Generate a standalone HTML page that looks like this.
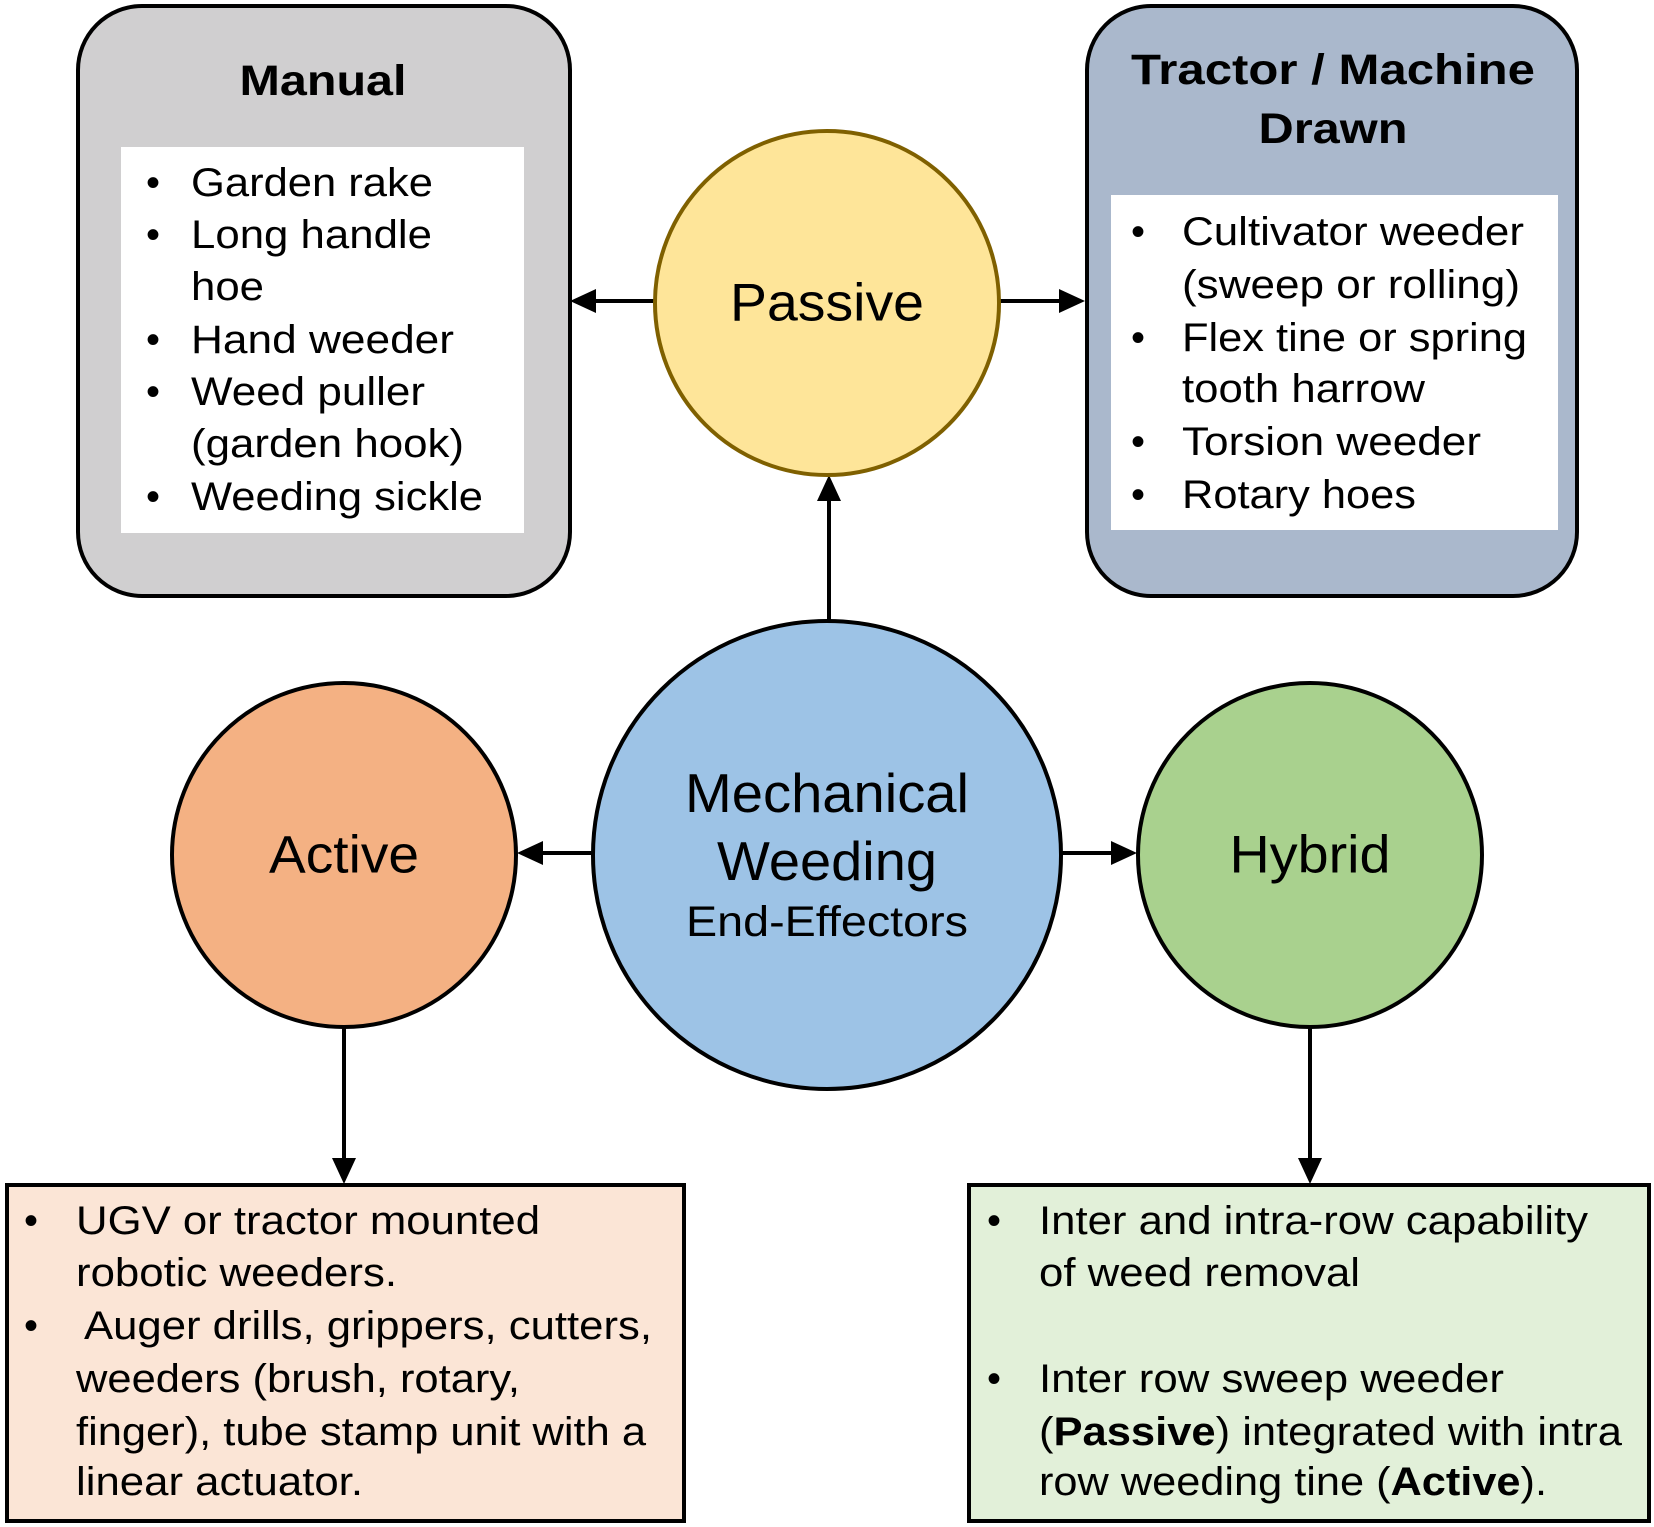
<!DOCTYPE html>
<html><head><meta charset="utf-8"><style>
html,body{margin:0;padding:0;background:#fff}
svg{display:block}
text{font-family:"Liberation Sans",Arial,sans-serif;fill:#000}
</style></head><body>
<svg width="1654" height="1527" viewBox="0 0 1654 1527" xmlns="http://www.w3.org/2000/svg">
<defs>
<marker id="ah" markerWidth="10" markerHeight="10" refX="9" refY="5" orient="auto" markerUnits="userSpaceOnUse" viewBox="0 0 10 10">
</marker>
</defs>
<rect width="1654" height="1527" fill="#fff"/>
<!-- Manual box -->
<rect x="78" y="6" width="492" height="590" rx="64" fill="#d0cfd0" stroke="#000" stroke-width="4"/>
<rect x="121" y="147" width="403" height="386" fill="#fff"/>
<text x="323" y="81" font-size="43" font-weight="bold" text-anchor="middle" dominant-baseline="central" textLength="167" lengthAdjust="spacingAndGlyphs">Manual</text>
<g font-size="40" dominant-baseline="central">
<text x="146" y="183">•</text><text x="191" y="183" textLength="242" lengthAdjust="spacingAndGlyphs">Garden rake</text>
<text x="146" y="235">•</text><text x="191" y="235" textLength="241" lengthAdjust="spacingAndGlyphs">Long handle</text>
<text x="191" y="287" textLength="73" lengthAdjust="spacingAndGlyphs">hoe</text>
<text x="146" y="340">•</text><text x="191" y="340" textLength="263" lengthAdjust="spacingAndGlyphs">Hand weeder</text>
<text x="146" y="392">•</text><text x="191" y="392" textLength="234" lengthAdjust="spacingAndGlyphs">Weed puller</text>
<text x="191" y="444" textLength="273" lengthAdjust="spacingAndGlyphs">(garden hook)</text>
<text x="146" y="497">•</text><text x="191" y="497" textLength="292" lengthAdjust="spacingAndGlyphs">Weeding sickle</text>
</g>
<!-- Tractor box -->
<rect x="1087" y="6" width="490" height="590" rx="64" fill="#aab8cc" stroke="#000" stroke-width="4"/>
<rect x="1111" y="195" width="447" height="335" fill="#fff"/>
<text x="1333" y="70" font-size="43" font-weight="bold" text-anchor="middle" dominant-baseline="central" textLength="404" lengthAdjust="spacingAndGlyphs">Tractor / Machine</text>
<text x="1333" y="129" font-size="43" font-weight="bold" text-anchor="middle" dominant-baseline="central" textLength="149" lengthAdjust="spacingAndGlyphs">Drawn</text>
<g font-size="40" dominant-baseline="central">
<text x="1131" y="232">•</text><text x="1182" y="232" textLength="342" lengthAdjust="spacingAndGlyphs">Cultivator weeder</text>
<text x="1182" y="285" textLength="338" lengthAdjust="spacingAndGlyphs">(sweep or rolling)</text>
<text x="1131" y="338">•</text><text x="1182" y="338" textLength="345" lengthAdjust="spacingAndGlyphs">Flex tine or spring</text>
<text x="1182" y="389" textLength="243" lengthAdjust="spacingAndGlyphs">tooth harrow</text>
<text x="1131" y="442">•</text><text x="1182" y="442" textLength="299" lengthAdjust="spacingAndGlyphs">Torsion weeder</text>
<text x="1131" y="495">•</text><text x="1182" y="495" textLength="234" lengthAdjust="spacingAndGlyphs">Rotary hoes</text>
</g>
<!-- connectors -->
<g stroke="#000" stroke-width="4">
<line x1="654" y1="301" x2="590" y2="301"/>
<line x1="1000" y1="301" x2="1065" y2="301"/>
<line x1="829" y1="620" x2="829" y2="495"/>
<line x1="593" y1="853" x2="537" y2="853"/>
<line x1="1061" y1="853" x2="1117" y2="853"/>
<line x1="344" y1="1025" x2="344" y2="1160"/>
<line x1="1310" y1="1025" x2="1310" y2="1160"/>
</g>
<g fill="#000">
<polygon points="570,301 596,289 596,313"/>
<polygon points="1085,301 1059,289 1059,313"/>
<polygon points="829,475 817,501 841,501"/>
<polygon points="517,853 543,841 543,865"/>
<polygon points="1137,853 1111,841 1111,865"/>
<polygon points="344,1184 332,1158 356,1158"/>
<polygon points="1310,1184 1298,1158 1322,1158"/>
</g>
<!-- circles -->
<circle cx="827" cy="303" r="172" fill="#fee599" stroke="#7f6000" stroke-width="4"/>
<text x="827" y="303" font-size="53" text-anchor="middle" dominant-baseline="central" textLength="194" lengthAdjust="spacingAndGlyphs">Passive</text>
<circle cx="827" cy="855" r="234" fill="#9dc3e6" stroke="#000" stroke-width="4"/>
<text x="827" y="793" font-size="55" text-anchor="middle" dominant-baseline="central" textLength="284" lengthAdjust="spacingAndGlyphs">Mechanical</text>
<text x="827" y="861" font-size="55" text-anchor="middle" dominant-baseline="central" textLength="220" lengthAdjust="spacingAndGlyphs">Weeding</text>
<text x="827" y="922" font-size="43" text-anchor="middle" dominant-baseline="central" textLength="282" lengthAdjust="spacingAndGlyphs">End-Effectors</text>
<circle cx="344" cy="855" r="172" fill="#f4b183" stroke="#000" stroke-width="4"/>
<text x="344" y="855" font-size="53" text-anchor="middle" dominant-baseline="central" textLength="150" lengthAdjust="spacingAndGlyphs">Active</text>
<circle cx="1310" cy="855" r="172" fill="#a9d18e" stroke="#000" stroke-width="4"/>
<text x="1310" y="855" font-size="53" text-anchor="middle" dominant-baseline="central" textLength="161" lengthAdjust="spacingAndGlyphs">Hybrid</text>
<!-- bottom boxes -->
<rect x="7" y="1185" width="677" height="336" fill="#fbe5d6" stroke="#000" stroke-width="4"/>
<g font-size="40" dominant-baseline="central">
<text x="24" y="1221">•</text><text x="76" y="1221" textLength="464" lengthAdjust="spacingAndGlyphs">UGV or tractor mounted</text>
<text x="76" y="1273" textLength="321" lengthAdjust="spacingAndGlyphs">robotic weeders.</text>
<text x="24" y="1326">•</text><text x="84" y="1326" textLength="568" lengthAdjust="spacingAndGlyphs">Auger drills, grippers, cutters,</text>
<text x="76" y="1379" textLength="444" lengthAdjust="spacingAndGlyphs">weeders (brush, rotary,</text>
<text x="76" y="1432" textLength="570" lengthAdjust="spacingAndGlyphs">finger), tube stamp unit with a</text>
<text x="76" y="1482" textLength="287" lengthAdjust="spacingAndGlyphs">linear actuator.</text>
</g>
<rect x="969" y="1185" width="680" height="336" fill="#e2f0d9" stroke="#000" stroke-width="4"/>
<g font-size="40" dominant-baseline="central">
<text x="987" y="1221">•</text><text x="1039" y="1221" textLength="549" lengthAdjust="spacingAndGlyphs">Inter and intra-row capability</text>
<text x="1039" y="1273" textLength="321" lengthAdjust="spacingAndGlyphs">of weed removal</text>
<text x="987" y="1379">•</text><text x="1039" y="1379" textLength="465" lengthAdjust="spacingAndGlyphs">Inter row sweep weeder</text>
<text x="1039" y="1432" textLength="583" lengthAdjust="spacingAndGlyphs">(<tspan font-weight="bold">Passive</tspan>) integrated with intra</text>
<text x="1039" y="1482" textLength="508" lengthAdjust="spacingAndGlyphs">row weeding tine (<tspan font-weight="bold">Active</tspan>).</text>
</g>
</svg>
</body></html>
